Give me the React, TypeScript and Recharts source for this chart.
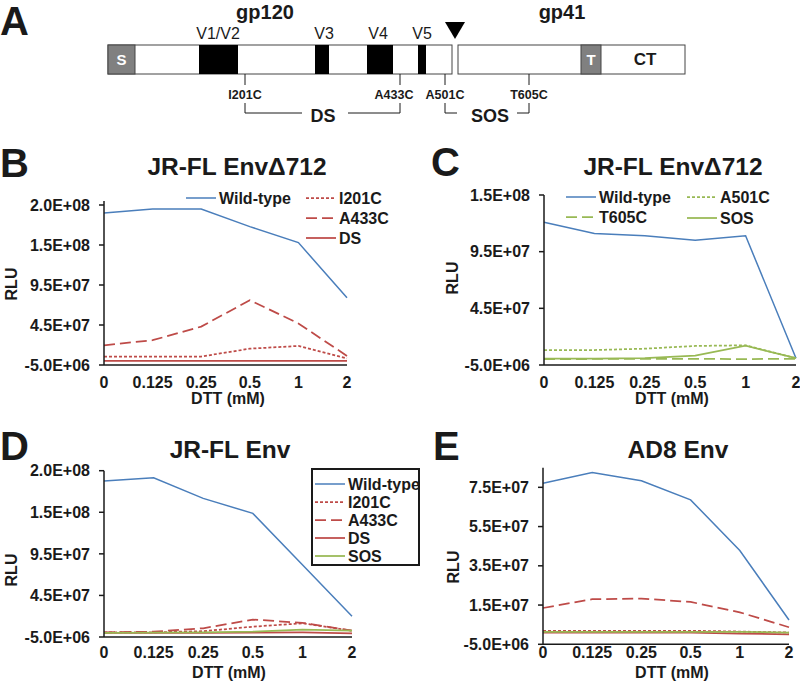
import React from "react";
import { LineChart, Line, XAxis, YAxis, Legend } from "recharts";

const FONT = '"Liberation Sans", Arial, Helvetica, sans-serif';
const INK = "#1a1a1a";
const BLUE = "#4a7ebb";
const RED = "#be4b48";
const GREEN = "#98b954";

// DTT concentrations (mM) on every x axis
const doses = ["0", "0.125", "0.25", "0.5", "1", "2"];

// B: JR-FL EnvΔ712, gp120 disulfide mutants
const bWild = [1.85e8, 1.9e8, 1.9e8, 1.68e8, 1.48e8, 7.9e7];
const bI201C = [5.4e6, 5.4e6, 5.6e6, 1.54e7, 1.88e7, 3.3e6];
const bA433C = [1.96e7, 2.6e7, 4.3e7, 7.6e7, 4.7e7, 6.3e6];
const bDS = [3e5, 3e5, 3e5, 3e5, 3e5, 2e5];

// C: JR-FL EnvΔ712, SOS mutants
const cWild = [1.21e8, 1.11e8, 1.09e8, 1.05e8, 1.09e8, 1.0e6];
const cA501C = [8.2e6, 8.2e6, 9.4e6, 1.18e7, 1.24e7, 1.0e6];
const cT605C = [2e5, 3e5, 4e5, 4e5, 2e5, 5e5];
const cSOS = [6e5, 6e5, 1.0e6, 3.2e6, 1.2e7, 1.0e6];

// D: JR-FL Env
const dWild = [1.825e8, 1.865e8, 1.617e8, 1.437e8, 8.2e7, 2.0e7];
const dI201C = [6e5, 6e5, 2.0e6, 7.4e6, 1.15e7, 2.6e6];
const dA433C = [6e5, 1.4e6, 5.5e6, 1.6e7, 1.2e7, 2.6e6];
const dDS = [0, 0, 0, 2e5, 5e5, -5e5];
const dSOS = [0, 2e5, 6e5, 1.4e6, 4.0e6, 2.6e6];

// E: AD8 Env
const eWild = [7.71e7, 8.26e7, 7.83e7, 6.86e7, 4.28e7, 7.4e6];
const eI201C = [1.9e6, 1.9e6, 1.9e6, 1.9e6, 1.5e6, 1.0e6];
const eA433C = [1.35e7, 1.8e7, 1.83e7, 1.66e7, 1.13e7, 3.7e6];
const eDS = [9e5, 9e5, 9e5, 9e5, 5e5, 0];
const eSOS = [1.3e6, 1.3e6, 1.3e6, 1.3e6, 1.3e6, 1.0e6];

const ticksB = [-5e6, 4.5e7, 9.5e7, 1.45e8, 1.95e8];
const ticksC = [-5e6, 4.5e7, 9.5e7, 1.45e8];
const ticksE = [-5e6, 1.5e7, 3.5e7, 5.5e7, 7.5e7];

const seriesStyle: Record<string, { stroke: string; dash?: string; width: number }> = {
  "Wild-type": { stroke: BLUE, width: 1.5 },
  I201C: { stroke: RED, dash: "3 2", width: 1.75 },
  A433C: { stroke: RED, dash: "11 5", width: 1.75 },
  DS: { stroke: RED, width: 1.75 },
  A501C: { stroke: GREEN, dash: "3 2", width: 1.75 },
  T605C: { stroke: GREEN, dash: "11 5", width: 1.75 },
  SOS: { stroke: GREEN, width: 1.75 },
};

function buildRows(series: Record<string, number[]>) {
  return doses.map((dose, i) => {
    const row: Record<string, string | number> = { dose };
    for (const k of Object.keys(series)) row[k] = series[k][i];
    return row;
  });
}

// Excel style "2.0E+08"
function fmtE(v: number): string {
  const [m, e] = v.toExponential(1).split("e");
  const n = parseInt(e, 10);
  return `${m}E${n < 0 ? "-" : "+"}${String(Math.abs(n)).padStart(2, "0")}`;
}

const tickStyle = { fontSize: 16, fontWeight: 700, fill: INK, fontFamily: FONT };
const axisStyle = { stroke: INK, strokeWidth: 1.5 };

type LegendItem = { name: string; x: number; y: number };

function LegendBox({ width, height, items, boxed }: { width: number; height: number; items: LegendItem[]; boxed?: boolean }) {
  return (
    <svg width={width} height={height} style={{ display: "block", overflow: "visible" }}>
      {boxed && <rect x={1} y={1} width={width - 2} height={height - 2} fill="#fff" stroke={INK} strokeWidth={2} />}
      {items.map((it) => {
        const s = seriesStyle[it.name];
        return (
          <g key={it.name}>
            <line x1={it.x} x2={it.x + 30} y1={it.y} y2={it.y} stroke={s.stroke} strokeWidth={s.width} strokeDasharray={s.dash} />
            <text x={it.x + 33} y={it.y} dominantBaseline="central" fontSize={16} fontWeight={700} fill={INK} fontFamily={FONT}>
              {it.name}
            </text>
          </g>
        );
      })}
    </svg>
  );
}

interface PanelProps {
  left: number;
  top: number;
  width: number;
  height: number;
  margin: { top: number; right: number; bottom: number; left: number };
  yWidth: number;
  xHeight: number;
  xTickMargin: number;
  domain: [number, number];
  ticks: number[];
  series: Record<string, number[]>;
  rlu: [number, number];
  dtt: [number, number];
  legend?: React.ReactNode;
}

function Panel(p: PanelProps) {
  const rows = buildRows(p.series);
  return (
    <div style={{ position: "absolute", left: p.left, top: p.top }}>
      <LineChart width={p.width} height={p.height} data={rows} margin={p.margin}>
        <XAxis
          dataKey="dose"
          interval={0}
          tickLine={false}
          tickSize={0}
          tickMargin={p.xTickMargin}
          height={p.xHeight}
          tick={tickStyle}
          axisLine={axisStyle}
          label={{
            content: () => (
              <text x={p.dtt[0]} y={p.dtt[1]} textAnchor="middle" fontSize={16} fontWeight={700} fill={INK} fontFamily={FONT}>
                DTT (mM)
              </text>
            ),
          }}
        />
        <YAxis
          type="number"
          domain={p.domain}
          ticks={p.ticks}
          interval={0}
          allowDataOverflow
          width={p.yWidth}
          tickFormatter={fmtE}
          tickSize={5}
          tickMargin={9}
          tick={tickStyle}
          tickLine={axisStyle}
          axisLine={axisStyle}
          label={{
            content: () => (
              <text
                x={p.rlu[0]}
                y={p.rlu[1]}
                transform={`rotate(-90 ${p.rlu[0]} ${p.rlu[1]})`}
                textAnchor="middle"
                dominantBaseline="central"
                fontSize={16}
                fontWeight={700}
                fill={INK}
                fontFamily={FONT}
              >
                RLU
              </text>
            ),
          }}
        />
        {Object.keys(p.series).map((k) => (
          <Line
            key={k}
            type="linear"
            dataKey={k}
            stroke={seriesStyle[k].stroke}
            strokeWidth={seriesStyle[k].width}
            strokeDasharray={seriesStyle[k].dash}
            dot={false}
            activeDot={false}
            isAnimationActive={false}
          />
        ))}
        {p.legend}
      </LineChart>
    </div>
  );
}

function legendEl(left: number, top: number, width: number, height: number, items: LegendItem[], boxed?: boolean) {
  return (
    <Legend
      layout="vertical"
      align="center"
      verticalAlign="middle"
      wrapperStyle={{ left, top, width, height }}
      content={() => <LegendBox width={width} height={height} items={items} boxed={boxed} />}
    />
  );
}

function Schematic() {
  const txt = { fontFamily: FONT, fill: INK };
  const mut = [
    { name: "I201C", x: 245, lx: 245 },
    { name: "A433C", x: 400, lx: 394 },
    { name: "A501C", x: 445, lx: 445 },
    { name: "T605C", x: 529, lx: 529 },
  ];
  const loops = [
    { name: "V1/V2", x0: 199, x1: 238, lx: 218 },
    { name: "V3", x0: 315, x1: 329, lx: 324 },
    { name: "V4", x0: 367, x1: 393, lx: 378 },
    { name: "V5", x0: 418, x1: 426, lx: 422 },
  ];
  return (
    <g>
      <text x={265} y={19} textAnchor="middle" fontSize={20} fontWeight={700} {...txt}>gp120</text>
      <text x={562} y={19} textAnchor="middle" fontSize={20} fontWeight={700} {...txt}>gp41</text>
      <rect x={108} y={45} width={344} height={29} fill="#fff" stroke="#444" strokeWidth={1} />
      <rect x={458} y={45} width={227} height={29} fill="#fff" stroke="#444" strokeWidth={1} />
      <rect x={108} y={45} width={27} height={29} fill="#808080" stroke="#444" strokeWidth={1} />
      <rect x={581} y={45} width={20} height={29} fill="#808080" stroke="#444" strokeWidth={1} />
      <text x={121.5} y={64.5} textAnchor="middle" fontSize={15} fontWeight={700} fontFamily={FONT} fill="#fff">S</text>
      <text x={591} y={64.5} textAnchor="middle" fontSize={15} fontWeight={700} fontFamily={FONT} fill="#fff">T</text>
      <text x={645} y={64.5} textAnchor="middle" fontSize={17} fontWeight={700} {...txt}>CT</text>
      {loops.map((l) => (
        <g key={l.name}>
          <rect x={l.x0} y={45} width={l.x1 - l.x0} height={29} fill="#000" />
          <text x={l.lx} y={39} textAnchor="middle" fontSize={16} {...txt}>{l.name}</text>
        </g>
      ))}
      <polygon points="445,22 465,22 455,39" fill="#000" />
      {mut.map((m) => (
        <g key={m.name}>
          <line x1={m.x} x2={m.x} y1={74} y2={85} stroke={INK} strokeWidth={1} />
          <line x1={m.x} x2={m.x} y1={103} y2={113} stroke={INK} strokeWidth={1} />
          <text x={m.lx} y={99} textAnchor="middle" fontSize={12.5} fontWeight={700} {...txt}>{m.name}</text>
        </g>
      ))}
      <line x1={245} x2={302} y1={113} y2={113} stroke={INK} />
      <line x1={348} x2={400} y1={113} y2={113} stroke={INK} />
      <line x1={445} x2={457} y1={113} y2={113} stroke={INK} />
      <line x1={517} x2={529} y1={113} y2={113} stroke={INK} />
      <text x={323} y={122} textAnchor="middle" fontSize={18} fontWeight={700} {...txt}>DS</text>
      <text x={490} y={122} textAnchor="middle" fontSize={18} fontWeight={700} {...txt}>SOS</text>
    </g>
  );
}

export default function App() {
  const big = { fontFamily: FONT, fontWeight: 700, fill: INK } as const;
  return (
    <div style={{ position: "absolute", left: 0, top: 0, width: 800, height: 681, background: "#fff", overflow: "hidden" }}>
      <svg width={800} height={681} style={{ position: "absolute", left: 0, top: 0 }}>
        <Schematic />
        <text x={0} y={35} fontSize={40} {...big}>A</text>
        <text x={0} y={177} fontSize={40} {...big}>B</text>
        <text x={431} y={176} fontSize={40} {...big}>C</text>
        <text x={0} y={460} fontSize={40} {...big}>D</text>
        <text x={433} y={460} fontSize={40} {...big}>E</text>
        <text x={237} y={175} textAnchor="middle" fontSize={24.5} {...big}>JR-FL EnvΔ712</text>
        <text x={673} y={175} textAnchor="middle" fontSize={24.5} {...big}>JR-FL EnvΔ712</text>
        <text x={230} y={458} textAnchor="middle" fontSize={24.5} {...big}>JR-FL Env</text>
        <text x={678} y={458} textAnchor="middle" fontSize={24.5} {...big}>AD8 Env</text>
      </svg>

      <Panel
        left={0}
        top={180}
        width={400}
        height={235}
        margin={{ top: 21, right: 53, bottom: 5, left: 0 }}
        yWidth={104}
        xHeight={45}
        xTickMargin={11.6}
        domain={[-5e6, 2.0e8]}
        ticks={ticksB}
        series={{ "Wild-type": bWild, I201C: bI201C, A433C: bA433C, DS: bDS }}
        rlu={[11, 104]}
        dtt={[228, 224]}
        legend={legendEl(180, 5, 200, 65, [
          { name: "Wild-type", x: 6, y: 13 },
          { name: "I201C", x: 126, y: 13 },
          { name: "A433C", x: 126, y: 33 },
          { name: "DS", x: 126, y: 53 },
        ])}
      />

      <Panel
        left={440}
        top={185}
        width={360}
        height={230}
        margin={{ top: 10, right: 4, bottom: 5, left: 0 }}
        yWidth={104}
        xHeight={45}
        xTickMargin={11.6}
        domain={[-5e6, 1.45e8]}
        ticks={ticksC}
        series={{ "Wild-type": cWild, A501C: cA501C, T605C: cT605C, SOS: cSOS }}
        rlu={[12, 93]}
        dtt={[232, 219]}
        legend={legendEl(120, 0, 240, 45, [
          { name: "Wild-type", x: 6, y: 12 },
          { name: "A501C", x: 127, y: 12 },
          { name: "T605C", x: 6, y: 32 },
          { name: "SOS", x: 127, y: 33 },
        ])}
      />

      <Panel
        left={0}
        top={460}
        width={400}
        height={221}
        margin={{ top: 10.7, right: 48, bottom: 0, left: 0 }}
        yWidth={104}
        xHeight={44}
        xTickMargin={9.6}
        domain={[-5e6, 1.95e8]}
        ticks={ticksB}
        series={{ "Wild-type": dWild, I201C: dI201C, A433C: dA433C, DS: dDS, SOS: dSOS }}
        rlu={[11, 110]}
        dtt={[229, 218]}
        legend={legendEl(311, 8, 109, 98, [
          { name: "Wild-type", x: 4, y: 16 },
          { name: "I201C", x: 4, y: 34 },
          { name: "A433C", x: 4, y: 52 },
          { name: "DS", x: 4, y: 70 },
          { name: "SOS", x: 4, y: 88 },
        ], true)}
      />

      <Panel
        left={440}
        top={457}
        width={360}
        height={224}
        margin={{ top: 10.7, right: 11, bottom: 0, left: 0 }}
        yWidth={103}
        xHeight={36.7}
        xTickMargin={2.6}
        domain={[-5e6, 8.5e7]}
        ticks={ticksE}
        series={{ "Wild-type": eWild, I201C: eI201C, A433C: eA433C, DS: eDS, SOS: eSOS }}
        rlu={[13, 110]}
        dtt={[232, 221]}
      />
    </div>
  );
}
